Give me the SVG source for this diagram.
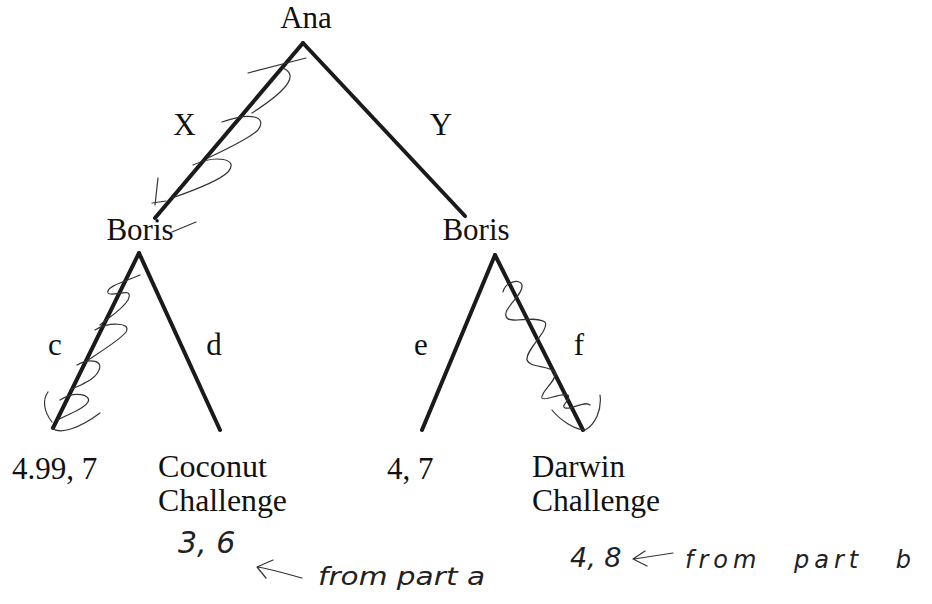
<svg xmlns="http://www.w3.org/2000/svg" width="932" height="604" viewBox="0 0 932 604">
<style>
.t{font-family:"Liberation Serif","Times New Roman",serif;font-size:31px;fill:#111}
.e{stroke:#1a1a1a;stroke-width:4;stroke-linecap:round;fill:none}
.s{stroke:#333;stroke-width:1.2;fill:none;stroke-linecap:round;stroke-linejoin:round}
.h{font-family:"DejaVu Sans",sans-serif;font-weight:200;font-style:italic;fill:#222}
</style>
<rect width="932" height="604" fill="#fff"/>
<g id="connectors">
  <line class="e" x1="303" y1="43" x2="155" y2="218"/>
  <line class="e" x1="303" y1="43" x2="465" y2="216"/>
  <line class="e" x1="139" y1="253" x2="53" y2="428"/>
  <line class="e" x1="139" y1="253" x2="220" y2="430"/>
  <line class="e" x1="495" y1="255" x2="422" y2="430"/>
  <line class="e" x1="495" y1="255" x2="583" y2="430"/>
  <text class="t" x="184.5" y="135" text-anchor="middle">X</text>
  <text class="t" x="441" y="135" text-anchor="middle">Y</text>
  <text class="t" x="55" y="355" text-anchor="middle">c</text>
  <text class="t" x="214" y="355" text-anchor="middle">d</text>
  <text class="t" x="421" y="355" text-anchor="middle">e</text>
  <text class="t" x="579" y="355" text-anchor="middle">f</text>
</g>
<g id="ana"><text class="t" x="306" y="28" text-anchor="middle">Ana</text></g>
<g id="boris-left"><text class="t" x="140" y="240" text-anchor="middle">Boris</text></g>
<g id="boris-right"><text class="t" x="476" y="240" text-anchor="middle">Boris</text></g>
<g id="leaf-c"><text class="t" x="12" y="479">4.99, 7</text></g>
<g id="leaf-d"><text class="t" x="158" y="477" textLength="109" lengthAdjust="spacingAndGlyphs">Coconut</text><text class="t" x="158" y="511" textLength="129" lengthAdjust="spacingAndGlyphs">Challenge</text></g>
<g id="leaf-e"><text class="t" x="387" y="479">4, 7</text></g>
<g id="leaf-f"><text class="t" x="532" y="477">Darwin</text><text class="t" x="532" y="511" textLength="128" lengthAdjust="spacingAndGlyphs">Challenge</text></g>
<g id="scribbles">
  <path class="s" d="M248 73 L306 58 M283 68 C296 74 294 86 252 113 M222 122 C250 112 268 116 258 130 C250 138 225 150 208 158 M193 165 C215 155 240 158 228 172 C220 180 195 190 172 198 M158 178 L155 205 M152 203 L166 201 M172 232 L196 222"/>
  <path class="s" d="M140 275 C130 280 105 286 108 293 C112 298 135 285 128 300 C122 310 108 318 100 325 M95 330 C108 322 132 322 126 332 C120 340 100 352 85 362 M77 365 C90 358 105 360 98 372 C94 380 80 385 70 390 M48 392 C42 400 44 412 52 422 M60 400 C75 390 92 395 88 402 C84 410 65 415 58 420 M52 428 C60 435 80 428 100 413"/>
  <path class="s" d="M503 292 C505 282 520 278 522 285 C524 295 500 310 507 318 C512 324 535 315 545 322 C550 330 525 350 527 360 C530 368 548 365 555 372 C558 380 540 392 542 398 C545 402 560 392 568 395 C572 400 560 405 565 408 C572 410 585 400 590 405 M552 410 C560 420 575 430 585 430 C595 425 602 410 600 395"/>
</g>
<g id="notes">
  <text class="h" x="178" y="553" font-size="30">3, 6</text>
  <path class="s" d="M273 560 L257 567 L266 578 M258 567 C275 570 290 575 302 578"/>
  <text class="h" x="318" y="585" font-size="24" textLength="167" lengthAdjust="spacingAndGlyphs">from part a</text>
  <text class="h" x="570" y="567" font-size="27">4, 8</text>
  <path class="s" d="M645 551 L633 559 L647 566 M634 559 L673 553"/>
  <text class="h" x="685" y="568" font-size="24" letter-spacing="5" word-spacing="20">from part b</text>
</g>
</svg>
